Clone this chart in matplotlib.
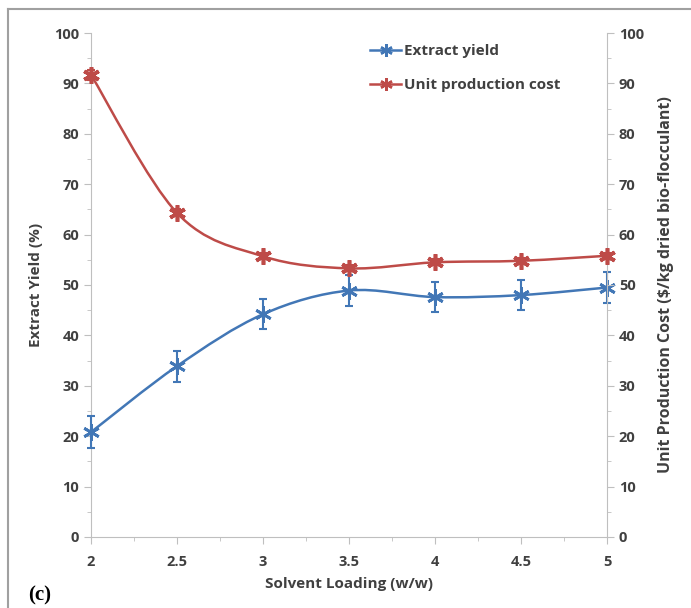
import numpy as np
import matplotlib
matplotlib.use("Agg")
import matplotlib.pyplot as plt
from matplotlib.path import Path
from matplotlib.patches import PathPatch
from matplotlib.lines import Line2D
from matplotlib.ticker import MultipleLocator

# data
solvent_loading = [2, 2.5, 3, 3.5, 4, 4.5, 5]
extract_yield = [20.8, 33.9, 44.2, 48.9, 47.6, 48.0, 49.5]
extract_yield_err = [3.2, 3.1, 3.0, 3.0, 3.0, 3.0, 3.1]
unit_cost = [91.7, 64.3, 55.7, 53.3, 54.5, 54.8, 55.8]
unit_cost_err = [1.0, 0.7, 0.6, 0.6, 0.6, 0.6, 0.6]

BLUE = '#4277b6'
RED = '#be4b48'
TXT = '#404040'
AXC = '#bfbfbf'


def smooth_path(x, y):
    """Excel-style smoothed line: cubic bezier through the points."""
    pts = np.column_stack([x, y]).astype(float)
    n = len(pts)
    verts = [pts[0]]
    codes = [Path.MOVETO]
    for i in range(n - 1):
        p0 = pts[i - 1] if i > 0 else pts[i]
        p1 = pts[i]
        p2 = pts[i + 1]
        p3 = pts[i + 2] if i + 2 < n else pts[i + 1]
        c1 = p1 + (p2 - p0) / 6.0
        c2 = p2 - (p3 - p1) / 6.0
        verts += [c1, c2, p2]
        codes += [Path.CURVE4] * 3
    return Path(verts, codes)


plt.rcParams['font.family'] = ['Open Sans', 'DejaVu Sans']
plt.rcParams['font.weight'] = 'bold'
plt.rcParams['axes.labelweight'] = 'bold'

fig = plt.figure(figsize=(6.91, 6.08), dpi=100)
ax = fig.add_axes([0.1317, 0.1168, 0.7467, 0.8289])
ax2 = ax.twinx()

for a in (ax, ax2):
    a.set_xlim(2, 5)
    a.set_ylim(0, 100)
    a.yaxis.set_major_locator(MultipleLocator(10))
    a.yaxis.set_minor_locator(MultipleLocator(5))
    for s in a.spines.values():
        s.set_visible(False)
    a.tick_params(which='both', colors=AXC, labelcolor=TXT, labelsize=10.5, direction='out')
    a.tick_params(which='major', length=5)
    a.tick_params(which='minor', length=3)

ax.spines['left'].set_visible(True)
ax.spines['left'].set_color(AXC)
ax.spines['bottom'].set_visible(True)
ax.spines['bottom'].set_color(AXC)
ax2.spines['right'].set_visible(True)
ax2.spines['right'].set_color(AXC)

ax.set_xticks(solvent_loading)
ax.set_xticklabels(['2', '2.5', '3', '3.5', '4', '4.5', '5'])
ax.xaxis.set_minor_locator(MultipleLocator(0.25))
ax.tick_params(axis='x', which='major', pad=8)

# extract yield (left axis)
ax.add_patch(PathPatch(smooth_path(solvent_loading, extract_yield), fill=False,
                       edgecolor=BLUE, lw=1.8, zorder=3))
eb = ax.errorbar(solvent_loading, extract_yield, yerr=extract_yield_err, fmt='none',
                 ecolor=BLUE, elinewidth=1.5, capsize=3, capthick=1.5, zorder=4)
for art in eb.lines[1] + eb.lines[2]:
    art.set_clip_on(False)
ax.plot(solvent_loading, extract_yield, ls='none', marker=(6, 2, 0), ms=12,
        mec=BLUE, mew=2, zorder=5, clip_on=False)

# unit production cost (right axis)
ax2.add_patch(PathPatch(smooth_path(solvent_loading, unit_cost), fill=False,
                        edgecolor=RED, lw=1.8, zorder=3))
eb2 = ax2.errorbar(solvent_loading, unit_cost, yerr=unit_cost_err, fmt='none',
                   ecolor=RED, elinewidth=1.5, capsize=3, capthick=1.5, zorder=4)
for art in eb2.lines[1] + eb2.lines[2]:
    art.set_clip_on(False)
ax2.plot(solvent_loading, unit_cost, ls='none', marker=(6, 2, 0), ms=12,
         mec=RED, mew=2.6, zorder=5, clip_on=False)

ax.set_xlabel('Solvent Loading (w/w)', fontsize=11, color=TXT, labelpad=6)
ax.set_ylabel('Extract Yield (%)', fontsize=11, color=TXT, labelpad=8)
ax2.set_ylabel('Unit Production Cost (\\$/kg dried bio-flocculant)', fontsize=11.5,
               color=TXT, labelpad=10)

handles = [
    Line2D([], [], color=BLUE, lw=1.8, marker=(6, 2, 0), ms=9, mew=1.8),
    Line2D([], [], color=RED, lw=1.8, marker=(6, 2, 0), ms=9, mew=1.8),
]
ax.legend(handles, ['Extract yield', 'Unit production cost'], loc='upper left',
          bbox_to_anchor=(0.515, 1.005), frameon=False, fontsize=11,
          labelspacing=1.3, handlelength=2.0, handletextpad=0.2, labelcolor=TXT)

fig.text(0.04, 0.013, '(c)', fontsize=15, fontweight='bold',
         family='Liberation Serif', color='black')

# outer frame (top and left edges visible)
fig.add_artist(Line2D([0.012, 1.0], [0.985, 0.985], color='#a0a0a0', lw=1.5,
                      transform=fig.transFigure))
fig.add_artist(Line2D([0.012, 0.012], [0.0, 0.985], color='#a0a0a0', lw=1.5,
                      transform=fig.transFigure))

fig.savefig('out.png', dpi=100)
